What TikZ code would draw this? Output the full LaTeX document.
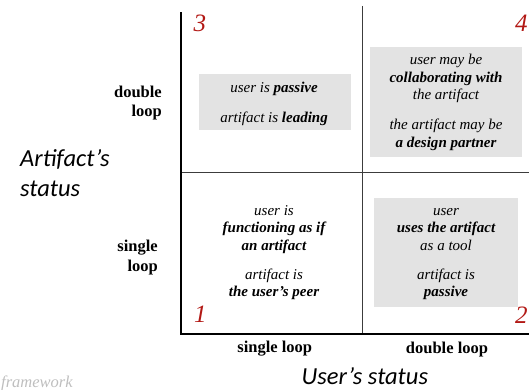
\documentclass[tikz,border=0pt]{standalone}
\usepackage{fontspec}
\setmainfont{Liberation Serif}[ItalicFont={Liberation Serif Italic},BoldFont={Liberation Serif Bold},BoldItalicFont={Liberation Serif Bold Italic}]
\newfontfamily\gillfont{Carlito}
\definecolor{boxgray}{RGB}{227,227,227}
\definecolor{numred}{RGB}{178,24,20}
\definecolor{gridgray}{RGB}{60,60,60}
\definecolor{fadegray}{RGB}{190,190,190}
\begin{document}
\begin{tikzpicture}[x=1pt,y=-1pt,
  axis/.style={line width=2pt, draw=black},
  gridline/.style={line width=1pt, draw=gridgray},
  cell/.style={fill=boxgray, draw=none, inner sep=0pt, anchor=north west},
  txt/.style={anchor=base, inner sep=0pt, font=\fontsize{15}{17}\selectfont\itshape},
  lab/.style={inner sep=0pt, font=\fontsize{16.5}{19}\selectfont\bfseries},
  num/.style={anchor=base west, inner sep=0pt, text=numred, font=\fontsize{25}{30}\selectfont\itshape},
  axt/.style={anchor=base west, inner sep=0pt, font=\fontsize{24.5}{30}\selectfont\gillfont\itshape}
]
\useasboundingbox (0,0) rectangle (529,390);
\clip (0,0) rectangle (529,390);

% axes and grid
\coordinate (O) at (180.5,334);
\coordinate (Ytop) at (180.5,12.5);
\coordinate (Xend) at (530,334);
\coordinate (Vtop) at (362.3,6);
\coordinate (Vbot) at (362.3,334);
\coordinate (Hl) at (180.5,172.7);
\coordinate (Hr) at (530,172.7);
\draw[gridline] (Vtop) -- (Vbot);
\draw[gridline] (Hl) -- (Hr);
\draw[axis] (Ytop) -- (O) -- (Xend);

% grey boxes
\node[cell, minimum width=152pt, minimum height=56pt] (b3) at (199,74) {};
\node[cell, minimum width=152pt, minimum height=109.7pt] (b4) at (370,47) {};
\node[cell, minimum width=144pt, minimum height=109.4pt] (b2) at (374,197.3) {};

% quadrant 3
\node[txt] (t3a) at (274,93) {user is \textbf{passive}};
\node[txt] (t3b) at (274,122.5) {artifact is \textbf{leading}};

% quadrant 4
\node[txt] (t4a) at (446,65) {user may be};
\node[txt] (t4b) at (446,82.5) {\textbf{collaborating with}};
\node[txt] (t4c) at (446,100) {the artifact};
\node[txt] (t4d) at (446,130) {the artifact may be};
\node[txt] (t4e) at (446,147.7) {\textbf{a design partner}};

% quadrant 1
\node[txt] (t1a) at (274,215.5) {user is};
\node[txt] (t1b) at (274,232.8) {\textbf{functioning as if}};
\node[txt] (t1c) at (274,250.3) {\textbf{an artifact}};
\node[txt] (t1d) at (274,279) {artifact is};
\node[txt] (t1e) at (274,296.8) {\textbf{the user’s peer}};

% quadrant 2
\node[txt] (t2a) at (446,215.5) {user};
\node[txt] (t2b) at (446,232.8) {\textbf{uses the artifact}};
\node[txt] (t2c) at (446,250.3) {as a tool};
\node[txt] (t2d) at (446,279) {artifact is};
\node[txt] (t2e) at (446,296.8) {\textbf{passive}};

% quadrant numbers
\node[num] (n3) at (193.5,32) {3};
\node[num] (n4) at (515,31.7) {4};
\node[num] (n1) at (194,322.7) {1};
\node[num] (n2) at (515,323) {2};

% axis category labels
\node[lab, anchor=base east] (dl1) at (162,97.3) {double};
\node[lab, anchor=base east] (dl2) at (162,116.5) {loop};
\node[lab, anchor=base east] (sl1) at (158,251) {single};
\node[lab, anchor=base east] (sl2) at (158,271.5) {loop};
\node[lab, anchor=base] (bx1) at (274.7,352.5) {single loop};
\node[lab, anchor=base] (bx2) at (447,353) {double loop};

% axis titles
\node[axt] (ya1) at (20,166.7) {Artifact’s};
\node[axt] (ya2) at (20,196.7) {status};
\node[axt] (xa) at (301.5,384.3) {User’s status};

% faded caption fragment
\node[anchor=base west, inner sep=0pt, text=fadegray, font=\fontsize{16.5}{20}\selectfont\itshape] (fw) at (1,387.5) {framework};
\end{tikzpicture}
\end{document}
